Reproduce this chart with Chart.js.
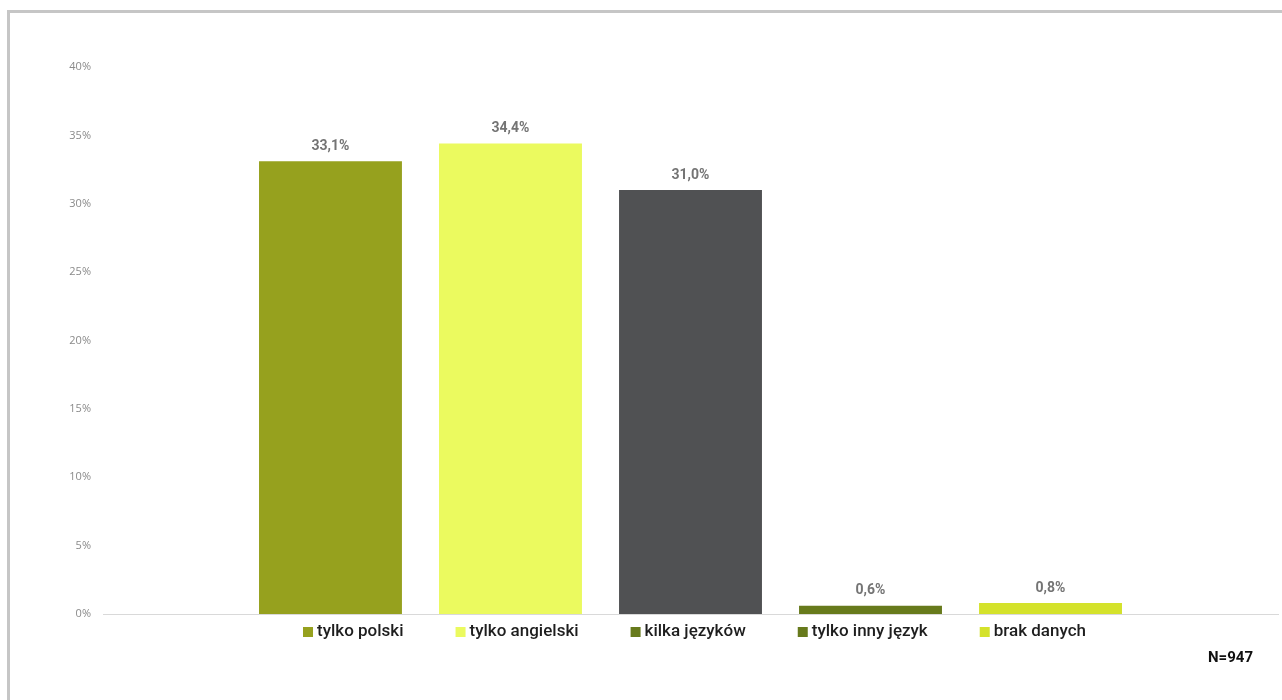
<!DOCTYPE html>
<html>
<head>
<meta charset="utf-8">
<script src="https://cdn.jsdelivr.net/npm/chart.js"></script>
<style>
  html, body { margin: 0; padding: 0; background: #fff; }
  #wrap { width: 1282px; height: 700px; position: relative; }
</style>
</head>
<body>
<div id="wrap"><canvas id="myChart" width="1282" height="700"></canvas></div>
<script>
// dane
var seriesNames = ["tylko polski", "tylko angielski", "kilka języków", "tylko inny język", "brak danych"];
var seriesValues = [33.1, 34.4, 31.0, 0.6, 0.8];
var barColors = ["#96a11e", "#ebfa5f", "#505153", "#677a1c", "#d4e22b"];
var legendColors = ["#96a11e", "#ebfa5f", "#677a1c", "#677a1c", "#d4e22b"];
var yTicks = [0, 5, 10, 15, 20, 25, 30, 35, 40];
var noteText = "N=947";

function fmt(v) {
  return v.toFixed(1).replace(".", ",") + "%";
}

var datasets = seriesNames.map(function (name, i) {
  return {
    label: name,
    data: [seriesValues[i]],
    backgroundColor: barColors[i],
    borderWidth: 0,
    categoryPercentage: 0.766,
    barPercentage: 0.794
  };
});

var extras = {
  id: "extras",
  afterDraw: function (chart) {
    var ctx = chart.ctx;
    ctx.save();
    // ramka
    ctx.strokeStyle = "#c6c6c6";
    ctx.lineWidth = 3;
    ctx.beginPath();
    ctx.moveTo(8.5, 700);
    ctx.lineTo(8.5, 11.5);
    ctx.lineTo(1282, 11.5);
    ctx.stroke();

    // etykiety wartości
    ctx.fillStyle = "#747474";
    ctx.font = "bold 14px Roboto";
    ctx.textAlign = "center";
    ctx.textBaseline = "middle";
    chart.data.datasets.forEach(function (ds, i) {
      var bar = chart.getDatasetMeta(i).data[0];
      ctx.fillText(fmt(ds.data[0]), bar.x, bar.y - 15);
    });

    // legenda
    ctx.font = "500 17px Roboto";
    ctx.textAlign = "left";
    var gap = 52, box = 10;
    var widths = seriesNames.map(function (n) { return box + 4 + ctx.measureText(n).width; });
    var total = widths.reduce(function (a, b) { return a + b; }, 0) + gap * (widths.length - 1);
    var area = chart.chartArea;
    var x = (area.left + area.right) / 2 - total / 2 + 4;
    var y = 632;
    seriesNames.forEach(function (n, i) {
      ctx.fillStyle = legendColors[i];
      ctx.fillRect(x, y - 5, box, box);
      ctx.fillStyle = "#1e1e1e";
      ctx.fillText(n, x + box + 4, y);
      x += widths[i] + gap;
    });

    // N
    ctx.font = "bold 15px Roboto";
    ctx.textAlign = "right";
    ctx.fillStyle = "#111";
    ctx.fillText(noteText, 1253, 658);
    ctx.restore();
  }
};

new Chart("myChart", {
  type: "bar",
  data: {
    labels: [""],
    datasets: datasets
  },
  options: {
    responsive: false,
    animation: false,
    layout: { padding: { left: 0, right: 4, top: 67, bottom: 86 } },
    plugins: {
      legend: { display: false },
      tooltip: { enabled: false }
    },
    scales: {
      x: {
        grid: { display: false },
        ticks: { display: false },
        border: { display: true, color: "#d9d9d9", width: 1 },
        afterFit: function (s) { s.height = 0; }
      },
      y: {
        min: 0,
        max: 40,
        afterBuildTicks: function (s) {
          s.ticks = yTicks.map(function (v) { return { value: v }; });
        },
        grid: { display: false },
        border: { display: false },
        ticks: {
          padding: 4,
          color: "#8a8a8a",
          font: { family: "Open Sans", size: 11 },
          callback: function (v) { return v + "%"; }
        },
        afterFit: function (s) { s.width = 103; }
      }
    }
  },
  plugins: [extras]
});
</script>
</body>
</html>
